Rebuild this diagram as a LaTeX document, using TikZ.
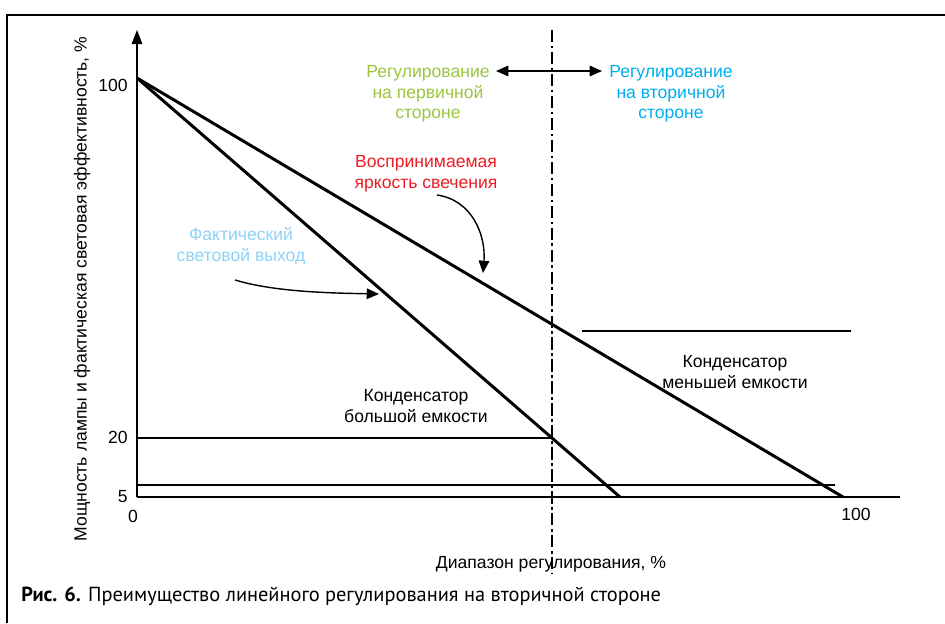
\documentclass[tikz,border=0pt]{standalone}
\usepackage{fontspec}
\setmainfont{Liberation Sans}
\newfontfamily\capfont{PT Sans}
\usetikzlibrary{arrows.meta,positioning,calc}
\definecolor{primgreen}{RGB}{155,197,61}
\definecolor{secblue}{RGB}{0,174,239}
\definecolor{lightblue}{RGB}{141,211,245}
\definecolor{brightred}{RGB}{237,28,36}
\tikzset{
    txt/.style = {font=\fontsize{10}{11.8}\selectfont, align=center, inner sep=0pt},
    tick/.style = {font=\fontsize{10}{11.8}\selectfont, inner sep=0pt},
    axis/.style = {line width=0.8pt},
    curve/.style = {line width=1.7pt},
    level/.style = {line width=0.6pt},
    border/.style = {line width=1pt},
    divider/.style = {line width=1.3pt, dash pattern=on 7pt off 2pt on 1.5pt off 2pt},
    pointer/.style = {line width=0.8pt, -{Triangle[length=7pt, width=6pt]}},
}

\begin{document}
\begin{tikzpicture}[x=0.02cm, y=-0.02cm]
    \useasboundingbox (0,0) rectangle (945,623);

    % Frame
    \coordinate (fL) at (7,623);
    \coordinate (fTL) at (7,15);
    \coordinate (fR) at (945,15);
    \draw[border] (fL) -- (fTL) -- (fR);

    % Axes
    \coordinate (O) at (137,497);
    \coordinate (ytip) at (137,30);
    \coordinate (xend) at (900,497);
    \draw[axis, -{Triangle[length=8pt, width=6pt]}] (O) -- (ytip);
    \draw[axis] (O) -- (xend);

    % Tick labels
    \node[tick, anchor=east] (y100) at (128,85) {100};
    \node[tick, anchor=east] (y20) at (128,437) {20};
    \node[tick, anchor=east] (y5) at (128,497) {5};
    \node[tick] (x0) at (133,516) {0};
    \node[tick] (x100) at (856,514) {100};

    % Axis titles
    \node[tick, rotate=90] (ytitle) at (82,289) {Мощность лампы и фактическая световая эффективность, \%};
    \node[tick] (xtitle) at (551,564) {Диапазон регулирования, \%};

    % Capacitor levels
    \coordinate (big0) at (137,438);
    \coordinate (big1) at (552,438);
    \coordinate (low0) at (137,485);
    \coordinate (low1) at (835,485);
    \coordinate (small0) at (582,331);
    \coordinate (small1) at (851,331);
    \draw[level] (big0) -- (big1);
    \draw[level] (low0) -- (low1);
    \draw[level] (small0) -- (small1);

    % Characteristics
    \coordinate (start) at (137,78);
    \coordinate (steepEnd) at (620,497);
    \coordinate (flatEnd) at (843,497);
    \draw[curve] (start) -- (steepEnd);
    \draw[curve] (start) -- (flatEnd);

    % Primary / secondary split
    \coordinate (divTop) at (552,30);
    \coordinate (divBot) at (552,574);
    \draw[divider] (divTop) -- (divBot);
    \coordinate (arrL) at (496,71);
    \coordinate (arrR) at (602,71);
    \draw[line width=0.8pt, {Triangle[length=7pt, width=6pt]}-{Triangle[length=7pt, width=6pt]}] (arrL) -- (arrR);

    \node[txt, text=primgreen] (prim) at (428,94) {Регулирование\\на первичной\\стороне};
    \node[txt, text=secblue] (sec) at (671,94) {Регулирование\\на вторичной\\стороне};

    % Curve labels
    \node[txt, text=brightred] (bright) at (426,174) {Воспринимаемая\\яркость свечения};
    \draw[pointer] (437,195) .. controls (472,200) and (486,235) .. (483,273);
    \node[txt, text=lightblue] (actual) at (241,246) {Фактический\\световой выход};
    \draw[pointer] (235,280) .. controls (275,292) and (330,293) .. (379,294);

    \node[txt] (bigcap) at (416,406) {Конденсатор\\большой емкости};
    \node[txt] (smallcap) at (735,372) {Конденсатор\\меньшей емкости};

    % Caption
    \node[anchor=west, inner sep=0pt, font=\capfont\fontsize{11.6}{13}\selectfont] (cap) at (21,596)
        {\textbf{Рис. 6.} Преимущество линейного регулирования на вторичной стороне};
\end{tikzpicture}
\end{document}
